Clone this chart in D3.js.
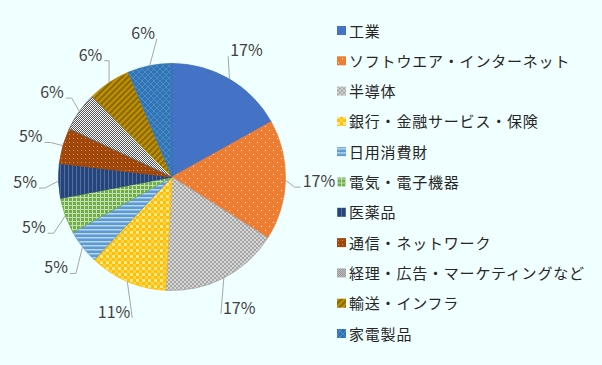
<!DOCTYPE html>
<html>
<head>
<meta charset="utf-8">
<script src="https://d3js.org/d3.v7.min.js"></script>
<style>
body { margin: 0; background: #F0FFFF; }
text { font-family: "Noto Sans CJK JP", "Noto Sans", sans-serif; }
</style>
</head>
<body>
<svg></svg>
<script>
// 業種の割合(%)
var categories = ["工業", "ソフトウエア・インターネット", "半導体", "銀行・金融サービス・保険",
    "日用消費財", "電気・電子機器", "医薬品", "通信・ネットワーク",
    "経理・広告・マーケティングなど", "輸送・インフラ", "家電製品"];
var shares = [16.9, 17.1, 16.9, 11.1, 4.9, 5.1, 4.9, 5.1, 5.6, 6.1, 6.3];

var screen = {width: 602, height: 365};
var pieBox = {cx: 172, cy: 177, r: 113.5, labelR: 147};

var setup = function()
{
    var svg = d3.select("svg")
        .attr("width", screen.width)
        .attr("height", screen.height);

    svg.append("rect")
        .attr("width", screen.width)
        .attr("height", screen.height)
        .attr("fill", "#F0FFFF");

    var defs = svg.append("defs");
    var fills = makePatterns(defs);

    drawPie(svg, fills);
    drawLegend(svg, fills);
}

// 塗りつぶしパターン
var makePatterns = function(defs)
{
    var pat = function(id, w, h, base)
    {
        var p = defs.append("pattern")
            .attr("id", id)
            .attr("patternUnits", "userSpaceOnUse")
            .attr("width", w)
            .attr("height", h);
        p.append("rect").attr("width", w).attr("height", h).attr("fill", base);
        return p;
    }

    var p;
    // orange dots
    p = pat("p1", 8, 8, "#ED7D31");
    p.append("rect").attr("x", 1).attr("y", 1).attr("width", 1).attr("height", 1).attr("fill", "#fff");
    p.append("rect").attr("x", 5).attr("y", 5).attr("width", 1).attr("height", 1).attr("fill", "#fff");
    // gray checker
    p = pat("p2", 4, 4, "#A5A5A5");
    p.append("rect").attr("width", 2).attr("height", 2).attr("fill", "#D6D6D6");
    p.append("rect").attr("x", 2).attr("y", 2).attr("width", 2).attr("height", 2).attr("fill", "#D6D6D6");
    // yellow gingham
    p = pat("p3", 6, 6, "#FFC000");
    p.append("rect").attr("width", 3).attr("height", 3).attr("fill", "#FFE699");
    p.append("rect").attr("x", 3).attr("y", 3).attr("width", 3).attr("height", 3).attr("fill", "#FFD34D");
    // light blue horizontal
    p = pat("p4", 4, 4, "#5B9BD5");
    p.append("rect").attr("width", 4).attr("height", 1.5).attr("fill", "#BDD7EE");
    // green grid
    p = pat("p5", 4, 4, "#70AD47");
    p.append("rect").attr("width", 4).attr("height", 1).attr("fill", "#C5E0B4");
    p.append("rect").attr("width", 1).attr("height", 4).attr("fill", "#C5E0B4");
    // dark blue vertical
    p = pat("p6", 4, 4, "#264478");
    p.append("rect").attr("width", 1).attr("height", 4).attr("fill", "#4F6FA8");
    // brown dots
    p = pat("p7", 4, 4, "#9E480E");
    p.append("rect").attr("x", 1).attr("y", 1).attr("width", 1).attr("height", 1).attr("fill", "#F08A3E");
    // dark gray / white checker
    p = pat("p8", 2, 2, "#FFFFFF");
    p.append("rect").attr("width", 1).attr("height", 1).attr("fill", "#555555");
    p.append("rect").attr("x", 1).attr("y", 1).attr("width", 1).attr("height", 1).attr("fill", "#555555");
    // gold diagonal
    p = pat("p9", 6, 6, "#C09000");
    p.append("path").attr("d", "M-1,7 L7,-1 M-1,1 L1,-1 M5,7 L7,5")
        .attr("stroke", "#8A6800").attr("stroke-width", 2);
    // blue crosshatch
    p = pat("p10", 6, 6, "#2E75B6");
    p.append("path").attr("d", "M0,0 L6,6 M6,0 L0,6")
        .attr("stroke", "#5B8FC8").attr("stroke-width", 0.8);

    return ["#4472C4", "url(#p1)", "url(#p2)", "url(#p3)", "url(#p4)", "url(#p5)",
            "url(#p6)", "url(#p7)", "url(#p8)", "url(#p9)", "url(#p10)"];
}

var edgeColors = ["#4472C4", "#ED7D31", "#A5A5A5", "#FFC000", "#5B9BD5", "#70AD47",
                  "#264478", "#9E480E", "#636363", "#BF9000", "#2E75B6"];

var drawPie = function(svg, fills)
{
    var total = d3.sum(shares);
    var pie = d3.pie().sort(null).value(function(d) { return d; });
    var arcs = pie(shares);

    var arc = d3.arc().innerRadius(0).outerRadius(pieBox.r);

    var g = svg.append("g")
        .attr("id", "pie")
        .attr("transform", "translate(" + pieBox.cx + "," + pieBox.cy + ")");

    g.selectAll("path.slice")
        .data(arcs)
        .enter()
        .append("path")
        .attr("class", "slice")
        .attr("d", arc)
        .attr("fill", function(d, i) { return fills[i]; })
        .attr("stroke", function(d, i) { return edgeColors[i]; })
        .attr("stroke-width", 0.8);

    var polar = function(r, a)
    {
        return [r * Math.sin(a), -r * Math.cos(a)];
    }

    var labels = g.append("g").attr("id", "labels");

    arcs.forEach(function(d, i)
    {
        var mid = (d.startAngle + d.endAngle) / 2;
        var txt = Math.round(d.value / total * 100) + "%";
        var pos = polar(pieBox.labelR, mid);
        var start = polar(pieBox.r, mid);

        var t = labels.append("text")
            .attr("x", pos[0])
            .attr("y", pos[1] + 6)
            .attr("text-anchor", "middle")
            .attr("font-size", 16)
            .attr("fill", "#404040")
            .text(txt);

        var hw = t.node().getComputedTextLength() / 2;
        var yb = pos[1] + 6;
        var edge, elbowX;
        if (pos[0] < 0)
        {
            edge = pos[0] + hw + 2;
            elbowX = Math.max(edge, Math.min(edge + 6, start[0]));
        }
        else
        {
            edge = pos[0] - hw - 2;
            elbowX = Math.min(edge, Math.max(edge - 6, start[0]));
        }

        labels.append("path")
            .attr("d", d3.line()([start, [elbowX, yb], [edge, yb]]))
            .attr("fill", "none")
            .attr("stroke", "#A6A6A6")
            .attr("stroke-width", 1);
    });
}

var drawLegend = function(svg, fills)
{
    var yScale = d3.scalePoint()
        .domain(categories)
        .range([31, 334]);

    var legend = svg.append("g").attr("id", "legend");

    var rows = legend.selectAll("g")
        .data(categories)
        .enter()
        .append("g")
        .attr("transform", function(d) { return "translate(337," + yScale(d) + ")"; });

    rows.append("rect")
        .attr("x", 0)
        .attr("y", -5)
        .attr("width", 9)
        .attr("height", 9)
        .attr("fill", function(d, i) { return fills[i]; });

    rows.append("text")
        .attr("x", 12)
        .attr("y", 5.5)
        .attr("font-size", 15)
        .attr("letter-spacing", 0.8)
        .attr("fill", "#262626")
        .text(function(d) { return d; });
}

setup();
</script>
</body>
</html>
